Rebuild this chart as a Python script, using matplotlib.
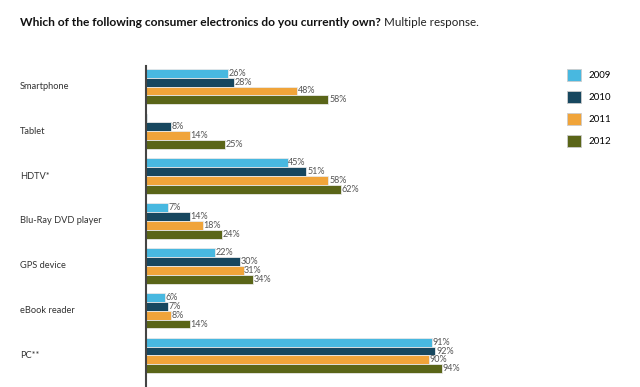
import matplotlib
matplotlib.use("Agg")
import matplotlib.pyplot as plt
from matplotlib.patches import Patch

# data
categories = ["Smartphone", "Tablet", "HDTV*", "Blu-Ray DVD player",
              "GPS device", "eBook reader", "PC**"]
years = ["2009", "2010", "2011", "2012"]
v2009 = [26, 0.4, 45, 7, 22, 6, 91]
v2010 = [28, 8, 51, 14, 30, 7, 92]
v2011 = [48, 14, 58, 18, 31, 8, 90]
v2012 = [58, 25, 62, 24, 34, 14, 94]
labels_2009 = ["26%", "", "45%", "7%", "22%", "6%", "91%"]
colors = ["#48B8E0", "#17475F", "#F0A43A", "#5A6518"]

plt.rcParams["font.family"] = ["Lato", "DejaVu Sans"]

W, H = 640, 387
fig = plt.figure(figsize=(W / 100, H / 100), dpi=100)
ax = fig.add_axes([146 / W, 0, 314.6 / W, 321 / H])

series = [v2009, v2010, v2011, v2012]
bh = 0.199
for k, vals in enumerate(series):
    off = (k - 1.5) * bh
    for i, v in enumerate(vals):
        ax.barh(i + off, v, height=bh, color=colors[k],
                edgecolor="#e8e8e8", linewidth=0.6)
        txt = labels_2009[i] if k == 0 else "%d%%" % v
        if txt:
            ax.text(v + 0.2, i + off, txt, va="center", ha="left",
                    fontsize=6.5, color="#555555")

ax.set_xlim(0, 100)
ax.set_ylim(6.703, -0.4576)
ax.set_xticks([])
ax.set_yticks([])
for s in ["top", "right", "bottom"]:
    ax.spines[s].set_visible(False)
ax.spines["left"].set_color("#444444")
ax.spines["left"].set_linewidth(1.5)

# category labels
for i, c in enumerate(categories):
    y = 66 + (0.4576 + i) * 44.8
    fig.text(20 / W, 1 - y / H, c, fontsize=6.7, color="#333333",
             va="center", ha="left")

# title
t1 = fig.text(20 / W, 1 - 22 / H,
              "Which of the following consumer electronics do you currently own?",
              fontsize=8.65, fontweight="bold", color="#111111", va="center")
fig.canvas.draw()
bb = t1.get_window_extent()
fig.text((bb.x1 + 3) / W, 1 - 22 / H, "Multiple response.",
         fontsize=8.4, color="#222222", va="center")

handles = [Patch(facecolor=c, edgecolor="#cccccc", linewidth=0.6) for c in colors]
fig.legend(handles, years, loc="upper left",
           bbox_to_anchor=(558 / W, 1 - 60 / H), frameon=False,
           fontsize=7, handlelength=1.5, handleheight=1.5,
           labelspacing=1.05, handletextpad=0.7)

fig.savefig("out.png", dpi=100)
